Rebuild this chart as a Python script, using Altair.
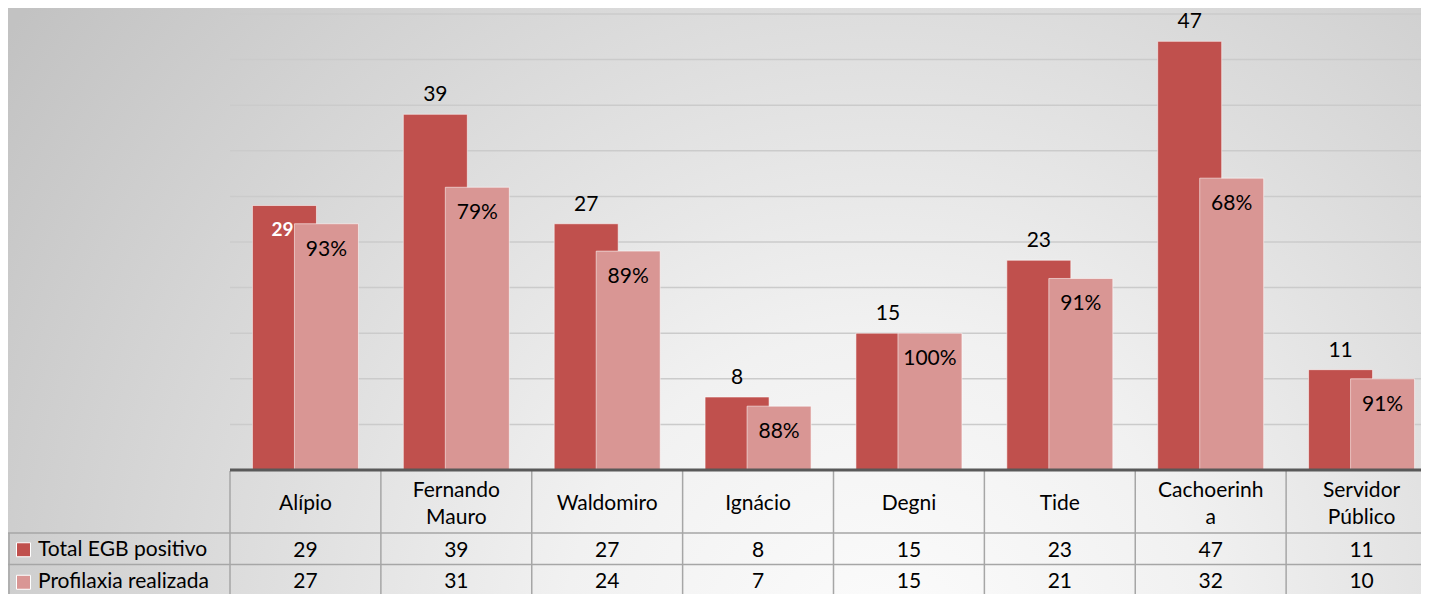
import altair as alt
import pandas as pd

cats = ["Alípio", "Fernando Mauro", "Waldomiro", "Ignácio", "Degni", "Tide",
        "Cachoerinha", "Servidor Público"]
header_labels = ["Alípio", "Fernando\nMauro", "Waldomiro", "Ignácio", "Degni", "Tide",
                 "Cachoerinh\na", "Servidor\nPúblico"]
total = [29, 39, 27, 8, 15, 23, 47, 11]
prof = [27, 31, 24, 7, 15, 21, 32, 10]
pct = ["93%", "79%", "89%", "88%", "100%", "91%", "68%", "91%"]
series = ["Total EGB positivo", "Profilaxia realizada"]
colors = ["#C0504D", "#D99694"]
grid_values = [5, 10, 15, 20, 25, 30, 35, 40, 45, 50]
table_rows = ["head_a", "head_b", "total", "prof"]

FONT = "Lato"
FS = 21
W, H = 1191, 580
PLOT_H = 456
TABLE_END = 582
RANGE_W = 1207

df = pd.DataFrame({"cat": cats, "total": total, "prof": prof, "pct": pct,
                   "header": header_labels})

tbl = pd.concat([
    pd.DataFrame({"cat": cats, "row": "head_a", "label": header_labels}),
    pd.DataFrame({"cat": cats, "row": "total", "label": [str(v) for v in total]}),
    pd.DataFrame({"cat": cats, "row": "prof", "label": [str(v) for v in prof]}),
])
grid_df = pd.DataFrame({"v": grid_values})
row_lines = pd.DataFrame({"row": ["total", "prof"]})

xs = alt.Scale(domain=cats, range=[0, RANGE_W], paddingInner=0, paddingOuter=0)
X = alt.X("cat:N", scale=xs, axis=None, sort=cats)
ys = alt.Scale(domain=[0, 50], range=[PLOT_H, 0])
tys = alt.Scale(type="band", domain=table_rows, range=[PLOT_H, TABLE_END],
                paddingInner=0, paddingOuter=0)
cscale = alt.Scale(domain=series, range=colors)
unit = (TABLE_END - PLOT_H) / 4.0

bg = alt.Chart(alt.Data(values=[{}])).mark_rect(
    fill=alt.RadialGradient(
        gradient="radial", x1=0.62, y1=0.75, r1=0, x2=0.62, y2=0.75, r2=0.76,
        stops=[alt.GradientStop(color="#fcfcfc", offset=0),
               alt.GradientStop(color="#f1f1f1", offset=0.3),
               alt.GradientStop(color="#c2c2c2", offset=1)]),
).encode(x=alt.value(-222), x2=alt.value(W), y=alt.value(-6), y2=alt.value(H))

grid = alt.Chart(grid_df).mark_rule(color="#cbcbcb", strokeWidth=1.5).encode(
    y=alt.Y("v:Q", scale=ys, axis=None),
    x=alt.value(0), x2=alt.value(RANGE_W))

base = alt.Chart(df)

bar_dark = base.transform_calculate(series=f"'{series[0]}'").mark_bar(
    width=64, xOffset=-21, stroke="#ffffff", strokeOpacity=0.55, strokeWidth=1).encode(
    x=X, y=alt.Y("total:Q", scale=ys, axis=None),
    color=alt.Color("series:N", scale=cscale,
                    legend=alt.Legend(title=None, orient="none", legendX=-217,
                                      legendY=PLOT_H + 2 * unit + unit / 2 - FS / 2 + 1,
                                      symbolType="square",
                                      symbolSize=196, labelFontSize=FS,
                                      labelFont=FONT, labelColor="#000000",
                                      rowPadding=unit - FS, labelLimit=400,
                                      symbolStrokeColor="#ffffff",
                                      symbolStrokeWidth=1, labelOffset=4,
                                      padding=0)))
bar_light = base.transform_calculate(series=f"'{series[1]}'").mark_bar(
    width=64, xOffset=21, stroke="#ffffff", strokeOpacity=0.55, strokeWidth=1).encode(
    x=X, y=alt.Y("prof:Q", scale=ys, axis=None),
    color=alt.Color("series:N", scale=cscale))

lbl_total = base.transform_filter(alt.datum.cat != "Alípio").mark_text(
    dx=-21, dy=-19, font=FONT, fontSize=FS, color="#000000", baseline="middle").encode(
    x=X, y=alt.Y("total:Q", scale=ys, axis=None), text="total:Q")
lbl_total_in = base.transform_filter(alt.datum.cat == "Alípio").mark_text(
    dx=-23, dy=24, font=FONT, fontSize=19, fontWeight="bold", color="#ffffff",
    baseline="middle").encode(
    x=X, y=alt.Y("total:Q", scale=ys, axis=None), text="total:Q")
lbl_pct = base.mark_text(dx=21, dy=26, font=FONT, fontSize=FS, color="#000000",
                         baseline="middle").encode(
    x=X, y=alt.Y("prof:Q", scale=ys, axis=None), text="pct:N")

baseline_rule = alt.Chart(alt.Data(values=[{}])).mark_rule(
    color="#595959", strokeWidth=3).encode(
    x=alt.value(0), x2=alt.value(RANGE_W), y=alt.value(PLOT_H))

hlines = alt.Chart(row_lines).mark_rule(color="#a6a6a6", strokeWidth=1.5).encode(
    y=alt.Y("row:N", scale=tys, axis=None, bandPosition=0),
    x=alt.value(-222), x2=alt.value(RANGE_W))

vlines = base.mark_rule(color="#a6a6a6", strokeWidth=1.5).encode(
    x=alt.X("cat:N", scale=xs, axis=None, sort=cats, bandPosition=0),
    y=alt.value(PLOT_H + 1), y2=alt.value(H + 10))
left_line = alt.Chart(alt.Data(values=[{}])).mark_rule(
    color="#a6a6a6", strokeWidth=1.5).encode(
    x=alt.value(-221), y=alt.value(PLOT_H + 2 * unit), y2=alt.value(H + 10))

head_single = alt.Chart(tbl).transform_filter(
    (alt.datum.row == "head_a") & (alt.expr.indexof(alt.datum.label, "\n") < 0)
).mark_text(font=FONT, fontSize=FS, color="#000000", baseline="middle", dy=2).encode(
    x=X, y=alt.Y("row:N", scale=tys, axis=None, bandPosition=1), text="label:N")
head_multi = alt.Chart(tbl).transform_filter(
    (alt.datum.row == "head_a") & (alt.expr.indexof(alt.datum.label, "\n") >= 0)
).mark_text(font=FONT, fontSize=FS, color="#000000", baseline="middle",
            lineBreak="\n", lineHeight=27, dy=-11).encode(
    x=X, y=alt.Y("row:N", scale=tys, axis=None, bandPosition=1), text="label:N")
val_txt = alt.Chart(tbl).transform_filter(alt.datum.row != "head_a").mark_text(
    font=FONT, fontSize=FS, color="#000000", baseline="middle", dy=2).encode(
    x=X, y=alt.Y("row:N", scale=tys, axis=None, bandPosition=0.5), text="label:N")

chart = alt.layer(
    bg, grid, bar_dark, bar_light, lbl_total, lbl_total_in, lbl_pct,
    hlines, vlines, left_line, baseline_rule, head_single, head_multi, val_txt
).resolve_scale(y="independent").properties(
    width=W, height=H,
    padding={"left": 222, "top": 6, "right": 0, "bottom": 0},
    autosize=alt.AutoSizeParams(type="none"),
).configure_view(stroke=None, clip=False)

chart.save("out.html", embed_options={"renderer": "svg", "actions": False})
